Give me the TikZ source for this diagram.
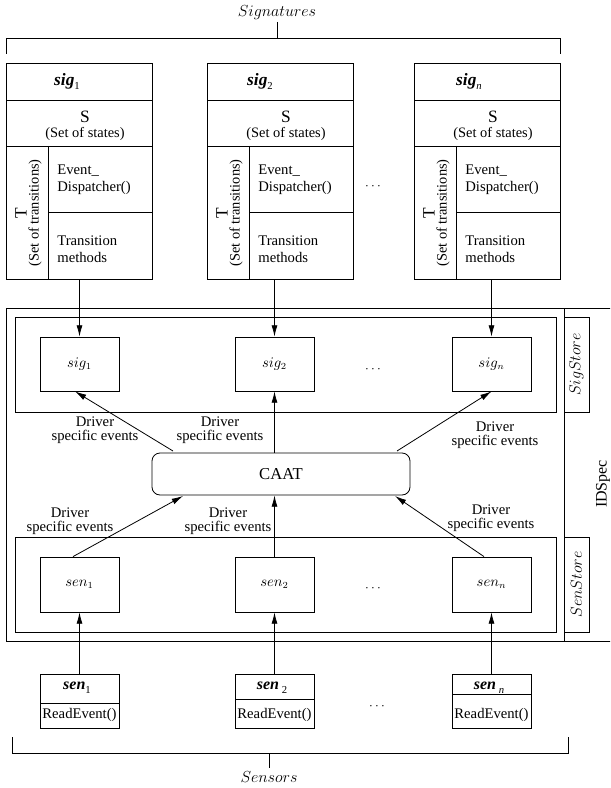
\documentclass[tikz,border=0pt]{standalone}
\usepackage{fontspec}
\setmainfont{Liberation Serif}
\usetikzlibrary{arrows.meta,fit,calc}
\begin{document}
\begin{tikzpicture}[x=0.75pt,y=-0.75pt, line width=0.6pt,
  box/.style={draw, inner sep=0pt},
  arr/.style={-{Latex[length=8.5pt,width=4.5pt]}},
  lbl/.style={font=\fontsize{11}{10.5}\selectfont, align=center, inner sep=0pt},
  txt/.style={font=\fontsize{11}{12.75}\selectfont, inner sep=0pt},
  mlbl/.style={font=\fontsize{12}{14}\selectfont, inner sep=0pt},
  small/.style={box, minimum width=59.25pt, minimum height=40.5pt, font=\fontsize{10.5}{12}\selectfont},
  dotsn/.style={inner sep=0pt, font=\fontsize{10}{12}\selectfont}
]
\clip (0,0) rectangle (610,788);

% ---------- Signatures bracket ----------
\node[mlbl] (signatures) at (277,13) {$Signatures$};
\coordinate (tb) at (277,38);
\draw (277,22) -- (tb);
\draw (6.6,54) -- (6.6,38) -- (560,38) -- (560,54);

% ---------- Signature boxes ----------
\foreach \i/\L/\tx/\sub in {1/6/61/{1}, 2/207/53/{2}, 3/414/55/{\textit{n}}}{
  \node[box, fit={(\L,63) (\L+146,279)}] (top\i) {};
  \draw (\L,100) -- (\L+146,100);
  \draw (\L,146) -- (\L+146,146);
  \draw (\L+42,212) -- (\L+146,212);
  \draw (\L+42,146) -- (\L+42,279);
  \node[inner sep=0pt, font=\fontsize{13}{15}\selectfont] (tt\i) at (\L+\tx,81)
     {\textbf{\textit{sig}}\raisebox{-3pt}{\fontsize{8}{8}\selectfont\sub}};
  \node[inner sep=0pt, font=\fontsize{13}{15}\selectfont] (ts\i) at (\L+79,117) {S};
  \node[inner sep=0pt, font=\fontsize{10.8}{12}\selectfont] (tss\i) at (\L+79,134) {(Set of states)};
  \node[inner sep=0pt, rotate=90, font=\fontsize{13}{15}\selectfont] (tT\i) at (\L+15,213) {T};
  \node[inner sep=0pt, rotate=90, font=\fontsize{10.8}{12}\selectfont] (tst\i) at (\L+29,213) {(Set of transitions)};
  \node[txt, anchor=west, align=left] (ted\i) at (\L+51,179.5) {Event\_\\Dispatcher()};
  \node[txt, anchor=west, align=left] (ttm\i) at (\L+51,249.5) {Transition\\methods};
}
\node[dotsn] (dtop) at (373,187) {$\cdots$};

% ---------- IDSpec frame ----------
\node[box, fit={(6.7,308) (625,641)}] (idspec) {};
\draw (564,308) -- (564,641);
\node[rotate=90, inner sep=0pt, font=\fontsize{12}{14}\selectfont] (idspeclbl) at (603,484) {IDSpec};

% ---------- SigStore ----------
\node[box, fit={(15,317) (556,412)}] (sigstore) {};
\node[box, fit={(564,317) (589,412)}] (sigstorebox) {};
\node[mlbl, rotate=90] (sigstorelbl) at (576.5,364.5) {$SigStore$};
\node[small] (s1) at (79.5,364) {$sig_1$};
\node[small] (s2) at (274.5,364) {$sig_2$};
\node[small] (sn) at (491.5,364) {$sig_n$};
\node[dotsn] (dsig) at (373,370) {$\cdots$};

\draw[arr] (top1.south -| s1.north) -- (s1.north);
\draw[arr] (top2.south -| s2.north) -- (s2.north);
\draw[arr] (top3.south -| sn.north) -- (sn.north);

% ---------- CAAT ----------
\node[box, rounded corners=6pt, minimum width=193.5pt, minimum height=31.5pt,
      font=\fontsize{12.5}{14}\selectfont] (caat) at (281,474) {CAAT};

\coordinate (a1) at (173,451);
\coordinate (a3) at (397,451);
\draw[arr] (a1) -- ($(s1.south)+(-4.5,0)$);
\draw[arr] (caat.north -| s2.south) -- (s2.south);
\draw[arr] (a3) -- (sn.south);
\node[lbl] (l1) at (95,430) {Driver\\specific events};
\node[lbl] (l2) at (220,430) {Driver\\specific events};
\node[lbl] (l3) at (495,435) {Driver\\specific events};

% ---------- SenStore ----------
\node[box, fit={(15,537) (556,632)}] (senstore) {};
\node[box, fit={(564,537) (589,632)}] (senstorebox) {};
\node[mlbl, rotate=90] (senstorelbl) at (576.5,584.5) {$SenStore$};
\node[small, minimum height=41.25pt] (e1) at (79.5,584.5) {$sen_1$};
\node[small, minimum height=41.25pt] (e2) at (274.5,584.5) {$sen_2$};
\node[small, minimum height=41.25pt] (en) at (491.5,584.5) {$sen_n$};
\node[dotsn] (dsen) at (373,589) {$\cdots$};

\coordinate (b1) at (183,496);
\coordinate (b3) at (395,496);
\draw[arr] ($(e1.north)+(-6.5,0)$) -- (b1);
\draw[arr] (e2.north) -- (caat.south -| e2.north);
\draw[arr] ($(en.north)+(-7.5,0)$) -- (b3);
\node[lbl] (l4) at (70,521) {Driver\\specific events};
\node[lbl] (l5) at (228,521) {Driver\\specific events};
\node[lbl] (l6) at (491,518) {Driver\\specific events};

% ---------- Sensor boxes ----------
\foreach \i/\L/\d/\sub/\gap in {1/40/703/{1}/{}, 2/235/699/{2}/{\,}, 3/452/694/{\textit{n}}/{\,}}{
  \node[box, fit={(\L,674) (\L+79,728)}] (r\i) {};
  \draw (\L,\d) -- (\L+79,\d);
  \node[inner sep=0pt, font=\fontsize{12}{14}\selectfont] (rt\i) at (\L+37,688)
     {\textbf{\textit{sen}}\gap\raisebox{-3pt}{\fontsize{8}{8}\selectfont\sub}};
  \node[inner sep=0pt, font=\fontsize{11}{13}\selectfont] (rr\i) at (\L+39.5,715) {ReadEvent()};
}
\node[dotsn] (dsens) at (377,707) {$\cdots$};
\draw[arr] (r1.north) -- (e1.south);
\draw[arr] (r2.north) -- (e2.south);
\draw[arr] (r3.north) -- (en.south);

% ---------- Sensors bracket ----------
\draw (12,737) -- (12,753) -- (568,753) -- (568,737);
\coordinate (bb) at (269,753);
\draw (bb) -- (269,768);
\node[mlbl] (sensors) at (269,777) {$Sensors$};
\end{tikzpicture}
\end{document}
